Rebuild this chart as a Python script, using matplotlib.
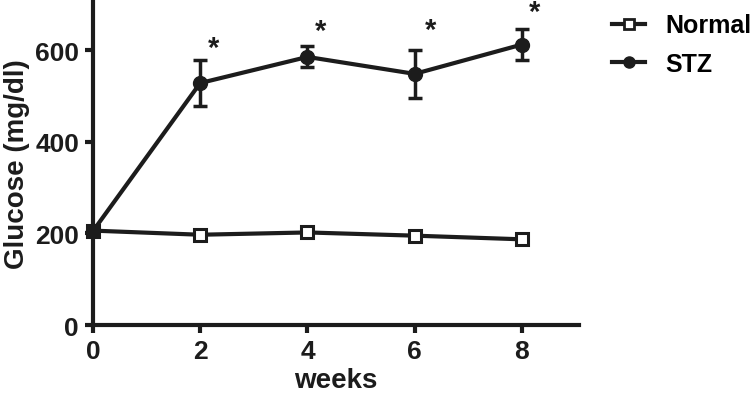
import matplotlib.pyplot as plt
from matplotlib.lines import Line2D

plt.rcParams['font.family'] = ['Liberation Sans', 'DejaVu Sans']
plt.rcParams['font.weight'] = 'bold'

weeks = [0, 2, 4, 6, 8]
normal = [206, 197, 202, 195, 187]
stz = [205, 528, 585, 548, 612]
stz_err = [0, 51, 23, 53, 33]
star_x = [2.24, 4.24, 6.3, 8.23]
star_y = [605, 642, 644, 683]

ink = '#1c1c1c'

fig = plt.figure(figsize=(7.54, 4.02), dpi=100)
ax = fig.add_axes([0.1233, 0.189, 0.645, 0.806])

ax.plot(weeks, normal, color=ink, lw=3, marker='s', ms=9,
        mfc='white', mec=ink, mew=2.2, clip_on=False, zorder=3)
ax.errorbar(weeks, stz, yerr=stz_err, color=ink, lw=3, marker='o', ms=10,
            elinewidth=2.5, capsize=5, capthick=2.5, clip_on=False, zorder=4)

for x, y in zip(star_x, star_y):
    ax.text(x, y, '*', ha='center', va='center', fontsize=21, color=ink,
            clip_on=False)

ax.set_xlim(0, 9.07)
ax.set_ylim(0, 707)
ax.set_xticks(weeks)
ax.set_yticks([0, 200, 400, 600])
ax.spines['top'].set_visible(False)
ax.spines['right'].set_visible(False)
for s in ['left', 'bottom']:
    ax.spines[s].set_linewidth(3)
    ax.spines[s].set_color(ink)
ax.tick_params(width=3, length=6, color=ink, labelsize=19, labelcolor=ink, pad=4)
for lab in ax.get_xticklabels() + ax.get_yticklabels():
    lab.set_fontweight('bold')

ax.set_xlabel('weeks', fontsize=20, fontweight='bold', color=ink, labelpad=3)
ax.set_ylabel('Glucose (mg/dl)', fontsize=20, fontweight='bold', color=ink, labelpad=4)

handles = [
    Line2D([], [], color=ink, lw=3, marker='s', ms=7, mfc='white', mec=ink, mew=2),
    Line2D([], [], color=ink, lw=3, marker='o', ms=8),
]
leg = fig.legend(handles, ['Normal', 'STZ'], loc='upper left',
                 bbox_to_anchor=(0.803, 0.98), frameon=False,
                 fontsize=18, handlelength=1.35, handletextpad=0.8,
                 labelspacing=0.58, borderaxespad=0.0, borderpad=0.25)
for t in leg.get_texts():
    t.set_fontweight('bold')

fig.savefig('out.png', dpi=100, facecolor='white')
